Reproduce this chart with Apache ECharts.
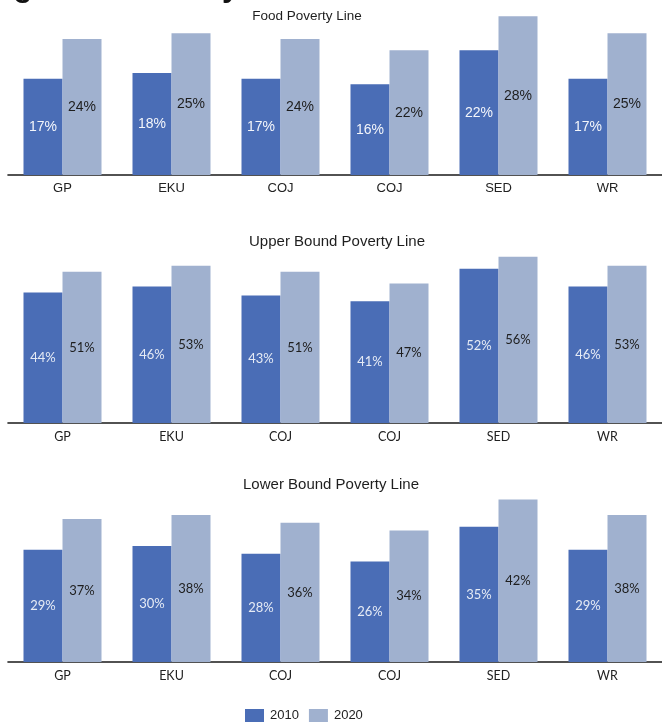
<!DOCTYPE html>
<html>
<head>
<meta charset="utf-8">
<style>
  html, body { margin: 0; padding: 0; background: #ffffff; }
  #chart { width: 662px; height: 725px; }
</style>
<script src="https://cdn.jsdelivr.net/npm/echarts@6/dist/echarts.min.js"></script>
</head>
<body>
<div id="chart"></div>
<script>
// Regions shown along each axis
const categories = ['GP', 'EKU', 'COJ', 'COJ', 'SED', 'WR'];

// Share of population below each poverty line (%)
const food2010  = [17, 18, 17, 16, 22, 17];
const food2020  = [24, 25, 24, 22, 28, 25];
const upper2010 = [44, 46, 43, 41, 52, 46];
const upper2020 = [51, 53, 51, 47, 56, 53];
const lower2010 = [29, 30, 28, 26, 35, 29];
const lower2020 = [37, 38, 36, 34, 42, 38];

const panelTitles = ['Food Poverty Line', 'Upper Bound Poverty Line', 'Lower Bound Poverty Line'];
const yMax = [30, 60, 45];

const C2010 = '#4a6db6';
const C2020 = '#a0b1cf';
const ARIAL = '"Liberation Sans", Arial, sans-serif';
const CALI = 'Lato, "Liberation Sans", sans-serif';

const grids = [
  { left: 8, width: 661, top: 5,   height: 170 },
  { left: 8, width: 661, top: 245, height: 178 },
  { left: 8, width: 661, top: 488, height: 174 }
];
const panelFont = [ARIAL, CALI, CALI];
const labelSize = [14, 13, 13];
const catSize = [13, 12.5, 12.5];

const xAxes = grids.map((g, i) => ({
  type: 'category',
  gridIndex: i,
  data: categories,
  axisLine: { show: true, lineStyle: { color: '#1a1a1a', width: 1.6 } },
  axisTick: { show: false },
  axisLabel: { color: '#222', fontFamily: panelFont[i], fontSize: catSize[i], margin: 7 }
}));
const yAxes = grids.map((g, i) => ({
  type: 'value',
  gridIndex: i,
  min: 0,
  max: yMax[i],
  show: false,
  splitLine: { show: false }
}));

function barSeries(name, data, idx, color, labelColor) {
  return {
    name: name,
    type: 'bar',
    xAxisIndex: idx,
    yAxisIndex: idx,
    data: data,
    barWidth: 39,
    barGap: '0%',
    itemStyle: { color: color },
    label: {
      show: true,
      position: 'inside',
      formatter: p => p.value + '%',
      color: labelColor,
      fontFamily: panelFont[idx],
      fontSize: labelSize[idx]
    },
    emphasis: { disabled: true }
  };
}

const series = [
  barSeries('2010', food2010, 0, C2010, '#f4f6fb'),
  barSeries('2020', food2020, 0, C2020, '#1e1e1e'),
  barSeries('2010', upper2010, 1, C2010, '#e6ebf5'),
  barSeries('2020', upper2020, 1, C2020, '#1e1e1e'),
  barSeries('2010', lower2010, 2, C2010, '#e6ebf5'),
  barSeries('2020', lower2020, 2, C2020, '#1e1e1e')
];

const titleCenters = [[307, 9], [337, 234], [331, 477]];
const titleSizes = [13.5, 15, 15];
const titles = panelTitles.map((t, i) => ({
  text: t,
  left: titleCenters[i][0],
  top: titleCenters[i][1],
  textAlign: 'center',
  padding: 0,
  textStyle: { fontFamily: ARIAL, fontWeight: 'normal', fontSize: titleSizes[i], color: '#1e1e1e' }
}));

const chart = echarts.init(document.getElementById('chart'), null, { renderer: 'canvas' });
chart.setOption({
  animation: false,
  backgroundColor: '#ffffff',
  title: titles,
  grid: grids,
  xAxis: xAxes,
  yAxis: yAxes,
  legend: {
    data: ['2010', '2020'],
    left: 245,
    top: 709,
    padding: 0,
    itemWidth: 19,
    itemHeight: 13,
    itemGap: 10,
    icon: 'rect',
    selectedMode: false,
    textStyle: { fontFamily: ARIAL, fontSize: 13, color: '#222', padding: [0, 0, 0, 1] }
  },
  graphic: [{
    type: 'text',
    left: -14,
    top: -28,
    silent: true,
    style: { text: 'Figure 3: Poverty', font: 'bold 31px "Liberation Sans", Arial, sans-serif', fill: '#111' }
  }],
  series: series
});
</script>
</body>
</html>
